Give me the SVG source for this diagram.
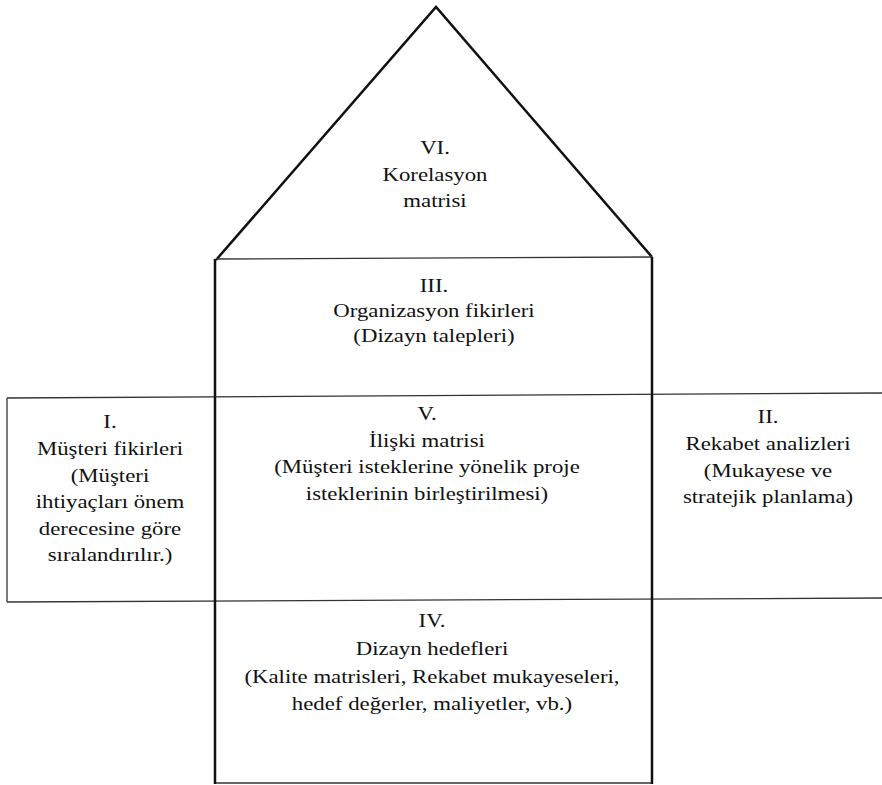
<svg xmlns="http://www.w3.org/2000/svg" width="882" height="785" viewBox="0 0 882 785">
<style>
.t{font-family:"Liberation Serif","Times New Roman",serif;font-size:19px;fill:#111;text-anchor:middle}
.thin{stroke:#333;stroke-width:1.3;fill:none}
.thick{stroke:#111;stroke-width:2.5;fill:none}
</style>
<rect width="882" height="785" fill="#fff"/>
<g id="connectors">
<polyline class="thick" points="216,260 436,7 652,257" stroke-width="2"/>
<line class="thin" x1="216" y1="259" x2="652" y2="257"/>
<line class="thin" x1="7" y1="398" x2="882" y2="393"/>
<line class="thin" x1="7" y1="602" x2="882" y2="598"/>
<line class="thin" x1="215" y1="783" x2="652" y2="783"/>
<line class="thick" x1="215" y1="259" x2="215" y2="784"/>
<line class="thick" x1="652" y1="257" x2="652" y2="784"/>
<line class="thin" x1="7" y1="398" x2="7" y2="602"/>
</g>
<g id="node-VI" transform="translate(435,0) scale(1.2,1)">
<text class="t" x="0" y="154">VI.</text>
<text class="t" x="0" y="181">Korelasyon</text>
<text class="t" x="0" y="207">matrisi</text>
</g>
<g id="node-III" transform="translate(434,0) scale(1.2,1)">
<text class="t" x="0" y="292">III.</text>
<text class="t" x="0" y="317">Organizasyon fikirleri</text>
<text class="t" x="0" y="342">(Dizayn talepleri)</text>
</g>
<g id="node-I" transform="translate(110,0) scale(1.2,1)">
<text class="t" x="0" y="428">I.</text>
<text class="t" x="0" y="455">Müşteri fikirleri</text>
<text class="t" x="0" y="482">(Müşteri</text>
<text class="t" x="0" y="508">ihtiyaçları önem</text>
<text class="t" x="0" y="535">derecesine göre</text>
<text class="t" x="0" y="561">sıralandırılır.)</text>
</g>
<g id="node-V" transform="translate(427,0) scale(1.2,1)">
<text class="t" x="0" y="420">V.</text>
<text class="t" x="0" y="447">İlişki matrisi</text>
<text class="t" x="0" y="473">(Müşteri isteklerine yönelik proje</text>
<text class="t" x="0" y="500">isteklerinin birleştirilmesi)</text>
</g>
<g id="node-II" transform="translate(768,0) scale(1.2,1)">
<text class="t" x="0" y="423">II.</text>
<text class="t" x="0" y="450">Rekabet analizleri</text>
<text class="t" x="0" y="477">(Mukayese ve</text>
<text class="t" x="0" y="503">stratejik planlama)</text>
</g>
<g id="node-IV" transform="translate(432,0) scale(1.2,1)">
<text class="t" x="0" y="627">IV.</text>
<text class="t" x="0" y="655">Dizayn hedefleri</text>
<text class="t" x="0" y="683">(Kalite matrisleri, Rekabet mukayeseleri,</text>
<text class="t" x="0" y="710">hedef değerler, maliyetler, vb.)</text>
</g>
</svg>
